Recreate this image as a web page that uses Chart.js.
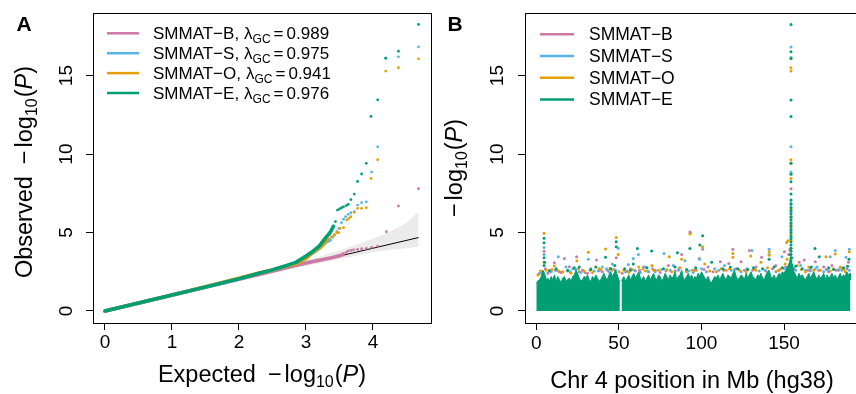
<!DOCTYPE html>
<html>
<head>
<meta charset="utf-8">
<script src="https://cdn.jsdelivr.net/npm/chart.js@4.4.1/dist/chart.umd.min.js"></script>
<style>
  html, body { margin: 0; padding: 0; background: #fff; }
  #wrap { position: relative; width: 856px; height: 394px; overflow: hidden; }
  canvas { position: absolute; top: 0; }
  #qq { left: 0; }
  #manh { left: 440px; }
</style>
</head>
<body>
<div id="wrap">
  <canvas id="qq" width="440" height="394"></canvas>
  <canvas id="manh" width="440" height="394"></canvas>
</div>
<script>
// ---- data ----
const seriesNames = ['SMMAT\u2212B', 'SMMAT\u2212S', 'SMMAT\u2212O', 'SMMAT\u2212E'];
const seriesColors = ['#CC79A7', '#56B4E9', '#E69F00', '#009E73'];
const lambdaGC = ['0.989', '0.975', '0.941', '0.976'];

const qqTicksX = [0, 1, 2, 3, 4];
const yTicks = [0, 5, 10, 15];
const manhTicksX = [0, 50, 100, 150];

// QQ plot: [expected, observed]; dense part is drawn as a thick trace, tail as dots
const qqBodyB = [[0,0],[0.5,0.5],[1,1.01],[1.5,1.51],[2,2.03],[2.3,2.33],[2.6,2.65],[2.8,2.86],[3.0,3.06],[3.2,3.24],[3.4,3.41],[3.55,3.58]];
const qqTailB = [[3.56,3.67],[3.6,3.74],[3.63,3.82],[3.67,3.86],[3.71,3.89],[3.77,3.93],[3.83,3.97],[3.9,3.99],[3.98,4.06],[4.07,4.14],[4.2,5.05],[4.38,6.69],[4.68,7.79]];
const qqBodyS = [[0,0],[0.5,0.51],[1,1.02],[1.5,1.53],[2,2.06],[2.3,2.4],[2.5,2.61],[2.7,2.85],[2.85,3.05],[3.0,3.4],[3.1,3.7],[3.2,4.0],[3.3,4.4],[3.36,4.52]];
const qqTailS = [[3.4,4.7],[3.43,4.84],[3.46,5.05],[3.49,5.26],[3.53,5.63],[3.56,5.85],[3.59,6.01],[3.63,6.16],[3.67,6.26],[3.72,6.33],[3.77,6.75],[3.83,6.9],[3.9,6.96],[3.98,8.85],[4.07,10.46],[4.19,16.13],[4.38,16.2],[4.68,16.83]];
const qqBodyO = [[0,0],[0.5,0.51],[1,1.02],[1.5,1.54],[2,2.08],[2.3,2.42],[2.5,2.62],[2.7,2.85],[2.85,3.02],[3.0,3.35],[3.11,3.78],[3.21,4.05],[3.31,4.5]];
const qqTailO = [[3.34,4.6],[3.38,4.73],[3.42,4.86],[3.46,4.99],[3.49,5.0],[3.51,5.26],[3.56,5.31],[3.61,5.8],[3.64,5.9],[3.67,6.01],[3.72,6.29],[3.77,6.54],[3.83,6.54],[3.9,6.58],[3.97,8.45],[4.07,9.64],[4.19,15.29],[4.38,15.5],[4.68,16.07]];
const qqBodyE = [[0,0],[0.5,0.51],[1,1.02],[1.5,1.53],[2,2.06],[2.3,2.4],[2.5,2.62],[2.7,2.88],[2.85,3.1],[3.0,3.5],[3.1,3.8],[3.2,4.15],[3.28,4.6],[3.36,5.0],[3.41,5.4]];
const qqTailE = [[3.44,5.7],[3.47,6.43],[3.5,6.5],[3.53,6.58],[3.56,6.64],[3.6,6.72],[3.63,6.8],[3.67,7.1],[3.72,7.45],[3.77,8.26],[3.83,8.73],[3.9,9.41],[3.97,12.4],[4.07,13.46],[4.19,16.1],[4.38,16.56],[4.68,18.26]];

// 95% band and null line
const bandX     = [0, 1, 2, 2.5, 3, 3.5, 4, 4.25, 4.5, 4.68];
const bandUpper = [0, 1.02, 2.08, 2.63, 3.2, 3.85, 4.6, 5.05, 5.6, 6.33];
const bandLower = [0, 0.98, 1.93, 2.41, 2.86, 3.3, 3.75, 3.9, 4.0, 4.1];
const nullLine  = [[0, 0], [4.68, 4.68]];

// Manhattan: top of the dense green mass, one value per Mb, two chromosome arms
const armPStart = 0;   // Mb 0..50
const armPTop = [1.8,1.9,2.0,2.2,2.6,2.4,2.0,2.1,1.9,2.2,2.0,
                 2.3,1.9,2.2,2.0,1.8,2.1,2.2,1.9,2.0,2.1,
                 1.9,2.2,2.3,2.6,2.4,2.1,1.9,2.0,2.2,2.1,
                 2.3,2.0,1.9,2.2,2.0,2.3,2.1,1.9,2.0,2.2,
                 2.4,2.1,2.0,2.3,2.5,2.2,2.4,2.6,2.3,2.0];
const armQStart = 52;  // Mb 52..190
const armQTop = [2.0,2.2,1.9,2.1,2.3,2.0,2.2,2.4,2.1,2.3,
                 2.5,2.1,2.0,2.2,1.9,2.1,2.3,2.0,2.2,2.4,
                 2.1,2.0,2.3,2.2,1.9,2.1,2.4,2.2,2.0,2.3,
                 2.1,2.2,2.5,2.0,2.2,2.3,2.6,2.1,2.0,2.2,
                 2.4,2.1,2.3,2.0,2.2,2.1,2.4,2.2,2.5,2.3,
                 2.1,2.0,2.2,1.9,1.8,2.0,2.2,2.1,2.3,2.0,
                 2.2,2.4,2.1,2.0,2.3,2.2,2.1,2.4,2.6,2.2,
                 2.0,2.1,2.3,2.2,2.0,2.4,2.1,2.3,2.5,2.2,
                 2.1,2.0,2.3,2.2,2.4,2.1,2.0,2.3,2.5,2.6,
                 2.2,2.1,2.3,2.0,2.2,2.4,2.3,2.5,2.4,2.6,
                 2.8,3.0,3.4,2.9,2.5,2.3,2.1,2.4,2.2,2.3,
                 2.1,2.0,2.2,2.4,2.1,2.3,2.5,2.2,2.0,2.3,
                 2.1,2.2,2.4,2.0,2.3,2.1,2.2,2.4,2.1,2.3,
                 2.0,2.2,2.4,2.1,2.3,2.2,2.5,2.3,2.4];
const armEdges = { pEnd: [50.6, 1.8], qStart: [51.6, 1.9], qEnd: [190.2, 2.0] };

// Manhattan: individual dots above the mass [Mb, -log10 P]
const manhB = [[4.7,3.8],[10.9,3.08],[17,3.35],[20,2.82],[24.4,3.46],[36.5,3.25],[33,2.7],[28,2.6],[8,2.6],[14,2.5],[45,2.7],[48.4,3.4],[57,2.7],[65,2.8],[72,2.6],[80,2.9],[88,3.6],[93,5.03],[93.3,4.98],[98.7,3.35],[100.7,3.93],[104,2.8],[111.4,3.14],[116.5,3.03],[119,3.93],[124,3.14],[129,3.85],[133,2.8],[136.4,3.42],[145,2.9],[150.2,3.78],[152.8,3.6],[153.5,3.9],[154.2,7.79],[154.2,5.5],[159.2,3.1],[162.2,3.25],[166,2.7],[168.9,3.14],[174,2.8],[179,2.9],[185,2.7],[189,3.1],
  [3,2.5],[7,2.4],[15,2.45],[26,2.5],[31,2.4],[40,2.5],[43,2.6],[52,2.4],[60,2.55],[68,2.5],[75,2.45],[84,2.55],[96,2.6],[107,2.5],[126,2.6],[139,2.55],[147,2.6],[156,2.7],[171,2.6],[177,2.5],[183,2.6],
  [1.5,2.35],[5.5,2.7],[11.5,2.6],[19,2.55],[22.5,2.7],[29.5,2.45],[38.5,2.6],[47,2.65],[55,2.55],[62.5,2.6],[70.5,2.7],[78.5,2.55],[86.5,2.7],[91,2.5],[101.5,2.65],[113.5,2.6],[121,2.7],[131,2.6],[143,2.7],[151,2.8],[164.5,2.6],[175.5,2.65],[181.5,2.6],[188,2.7]];
const manhS = [[4.7,4.05],[4.7,3.6],[13.3,3.46],[18,2.8],[22,2.7],[31.5,3.3],[40,2.8],[46,3.0],[49.6,4.0],[55.7,2.97],[58.7,3.35],[61.8,3.6],[66,2.8],[77.3,3.67],[83,2.9],[90,3.2],[98.9,3.3],[108,2.7],[114,2.9],[130.6,3.85],[141,3.93],[141,3.6],[148.7,3.46],[154.2,16.83],[154.2,16.16],[154.2,10.46],[154.2,8.85],[154.2,8.75],[154.2,6.9],[154.2,6.3],[154.2,5.9],[154.2,5.1],[154.2,4.7],[160,2.9],[170,2.8],[178,3.46],[181,3.85],[187.5,3.42],[189.5,3.93],
  [2,2.4],[9,2.5],[27,2.45],[35,2.55],[44,2.5],[54,2.5],[63,2.45],[72,2.5],[86,2.6],[95,2.45],[103,2.5],[118,2.6],[124,2.5],[135,2.55],[145,2.5],[157,2.6],[166,2.55],[174,2.5],[185,2.6],
  [3.5,2.45],[12.5,2.6],[20.5,2.5],[24,2.65],[37.5,2.55],[42.5,2.7],[48,2.6],[59.5,2.6],[67.5,2.55],[76,2.65],[81,2.6],[92.5,2.55],[100,2.7],[110.5,2.6],[120,2.65],[127.5,2.7],[138.5,2.6],[150,2.7],[163,2.6],[169,2.7],[176.5,2.6],[183,2.65],[189.5,2.6]];
const manhO = [[4.7,4.95],[4.7,3.1],[10.9,2.87],[24.6,3.2],[31.5,3.74],[38,2.7],[41.9,3.95],[48.4,4.69],[49.6,3.6],[53,2.6],[62,2.8],[70,2.9],[80.5,3.46],[88,3.3],[93,4.9],[100.7,4.1],[102,3.0],[112,2.7],[119,3.67],[119,3.42],[129.8,3.5],[136,3.1],[141,3.78],[141,3.56],[150.6,3.0],[151.5,4.37],[151.8,3.3],[152.4,4.48],[154.2,16.07],[154.2,15.5],[154.2,15.29],[154.2,9.64],[154.2,9.41],[154.2,8.45],[154.2,6.5],[154.2,6.0],[154.2,5.6],[154.2,5.3],[154.2,4.9],[154.2,4.5],[154.2,4.0],[158,2.9],[165,2.8],[175.4,3.46],[181,3.63],[184,2.8],[189.5,3.78],
  [1,2.3],[6,2.6],[16,2.5],[21,2.4],[29,2.55],[34,2.45],[46,2.6],[56,2.45],[66,2.55],[74,2.6],[82,2.5],[91,2.55],[97,2.6],[109,2.5],[115,2.6],[127,2.5],[133,2.6],[146,2.55],[163,2.5],[168,2.6],[178,2.55],[187,2.5],
  [2.5,2.55],[9.5,2.65],[13.5,2.55],[25.5,2.7],[32.5,2.6],[39,2.65],[44.5,2.7],[50,2.5],[58,2.65],[64.5,2.7],[71,2.6],[79,2.65],[87,2.75],[94.5,2.6],[105,2.55],[117,2.7],[123,2.6],[132,2.7],[140,2.75],[148,2.7],[160.5,2.65],[172,2.6],[180,2.7],[186,2.65]];
const manhE = [[4.7,4.63],[4.7,4.35],[4.7,3.4],[4.7,2.9],[12,2.7],[26,2.8],[41.9,3.42],[48.4,4.41],[48.4,4.1],[58.7,3.0],[61.2,3.99],[69.8,3.82],[85.4,3.71],[93,3.99],[99,4.2],[100.7,4.8],[106.2,3.1],[122,2.7],[141,3.3],[168.7,3.99],[171.3,3.46],[189.3,3.3],
  [154.2,18.26],[154.2,16.52],[154.2,16.09],[154.2,13.44],[154.2,12.4],[154.2,9.41],[154.2,8.71],[154.2,8.24],[154.2,7.45],[154.2,7.07],[154.2,6.8],[154.2,6.6],[154.2,6.4],[154.2,6.2],[154.2,6.0],[154.2,5.8],[154.2,5.6],[154.2,5.4],[154.2,5.2],[154.2,5.0],[154.2,4.8],[154.2,4.6],[154.2,4.4],[154.2,4.2],[154.2,4.0],[154.2,3.8],[154.2,3.6],[154.2,3.4],[154.2,3.2],[154.2,3.0],[154.2,2.8],
  [153.6,3.0],[153.8,3.6],[154.6,3.4],[154.8,2.9],[153.2,2.8],[155.2,2.7],
  [8,2.55],[19,2.6],[33,2.65],[45,2.7],[57,2.6],[77,2.7],[91,2.65],[113,2.7],[128,2.65],[137,2.7],[149,2.75],[161,2.7],[180,2.65],[186,2.75],
  [5,3.1],[23,2.75],[36,2.8],[47.5,2.9],[53.5,2.7],[67,2.75],[84,2.8],[96.5,2.75],[117.5,2.8],[131.5,2.75],[144,2.8],[157,2.85],[166.5,2.8],[177,2.75],[188.5,2.85]];

// ---- helpers ----
const FONT = '"Liberation Sans", Arial, Helvetica, sans-serif';
const xy = arr => arr.map(([x, y]) => ({ x, y }));
const zipXY = (xs, ys) => xs.map((x, i) => ({ x, y: ys[i] }));
const perMb = (start, tops) => tops.map((y, i) => ({ x: start + i, y }));

function partFont(p) {
  return (p.it ? 'italic ' : '') + (p.b ? 'bold ' : '') + p.s + 'px ' + FONT;
}
// draws a run of text pieces (for subscripts / italics), centred or left aligned
function drawRich(ctx, parts, x, y, rot, align) {
  ctx.save();
  ctx.translate(x, y);
  ctx.rotate(rot || 0);
  ctx.fillStyle = '#000';
  ctx.textAlign = 'left';
  ctx.textBaseline = 'alphabetic';
  let w = 0;
  parts.forEach(p => { ctx.font = partFont(p); w += (p.gap || 0) + ctx.measureText(p.t).width; });
  let cx = align === 'center' ? -w / 2 : 0;
  parts.forEach(p => {
    ctx.font = partFont(p);
    cx += p.gap || 0;
    ctx.fillText(p.t, cx, p.dy || 0);
    cx += ctx.measureText(p.t).width;
  });
  ctx.restore();
}

const T = 23.5, SUB = 16, TICK = 19, LEG = 17;
function logP(prefix) {
  const parts = [];
  if (prefix) parts.push({ t: prefix, s: T });
  parts.push({ t: '\u2212', s: T, gap: prefix ? 12 : 0 });
  parts.push({ t: 'log', s: T, gap: 3 });
  parts.push({ t: '10', s: SUB, dy: 5 });
  parts.push({ t: '(', s: T, gap: 1 });
  parts.push({ t: 'P', s: T, it: true });
  parts.push({ t: ')', s: T });
  return parts;
}

function axisDecor(cfg) {
  return {
    id: 'decor-' + cfg.name,
    afterDraw(chart) {
      const ctx = chart.ctx;
      const a = chart.chartArea;
      const sx = chart.scales.x, sy = chart.scales.y;
      ctx.save();
      ctx.strokeStyle = '#000';
      ctx.lineWidth = 1;
      ctx.strokeRect(Math.round(a.left) + 0.5, Math.round(a.top) + 0.5, Math.round(a.right - a.left), Math.round(a.bottom - a.top));
      // tick labels
      ctx.fillStyle = '#000';
      ctx.font = TICK + 'px ' + FONT;
      ctx.textAlign = 'center';
      ctx.textBaseline = 'alphabetic';
      cfg.xTicks.forEach(v => ctx.fillText(String(v), sx.getPixelForValue(v), cfg.xTickBase));
      yTicks.forEach(v => {
        ctx.save();
        ctx.translate(cfg.yTickBase, sy.getPixelForValue(v));
        ctx.rotate(-Math.PI / 2);
        ctx.fillText(String(v), 0, 0);
        ctx.restore();
      });
      // axis titles
      drawRich(ctx, cfg.xTitle, cfg.xTitlePos[0], cfg.xTitlePos[1], 0, 'center');
      drawRich(ctx, cfg.yTitle, cfg.yTitlePos[0], cfg.yTitlePos[1], -Math.PI / 2, 'center');
      // panel letter
      drawRich(ctx, [{ t: cfg.letter, s: 21, b: true }], cfg.letterPos[0], cfg.letterPos[1], 0, 'center');
      // legend
      seriesNames.forEach((n, i) => {
        const yy = cfg.leg.y0 + i * cfg.leg.dy;
        ctx.strokeStyle = seriesColors[i];
        ctx.lineWidth = 2.5;
        ctx.beginPath();
        ctx.moveTo(cfg.leg.x0, yy);
        ctx.lineTo(cfg.leg.x1, yy);
        ctx.stroke();
        drawRich(ctx, cfg.leg.text(i), cfg.leg.tx, yy + 6, 0, 'left');
      });
      ctx.restore();
    }
  };
}

function scalesFor(xMin, xMax, xTicks, yWidth) {
  const grid = { display: true, drawOnChartArea: false, drawTicks: true, tickLength: 7, color: '#000', tickColor: '#000', lineWidth: 1 };
  return {
    x: {
      type: 'linear', min: xMin, max: xMax,
      grid: grid, border: { display: false },
      ticks: { display: false },
      afterBuildTicks: s => { s.ticks = xTicks.map(v => ({ value: v })); },
      afterFit: s => { s.height = 71; }
    },
    y: {
      type: 'linear', min: -0.765, max: 18.99,
      grid: grid, border: { display: false },
      ticks: { display: false },
      afterBuildTicks: s => { s.ticks = yTicks.map(v => ({ value: v })); },
      afterFit: s => { s.width = yWidth; }
    }
  };
}

const dots = (data, color, r, order) => ({
  data: xy(data), showLine: false, pointRadius: r, pointBorderWidth: 0,
  pointBackgroundColor: color, pointBorderColor: color, order: order
});
const trace = (data, color, order) => ({
  data: xy(data), showLine: true, pointRadius: 0, borderColor: color, borderWidth: 3.6,
  borderCapStyle: 'round', borderJoinStyle: 'round', fill: false, tension: 0, order: order
});

const baseOpts = {
  responsive: false, animation: false, events: [],
  plugins: { legend: { display: false }, tooltip: { enabled: false } }
};

// ---- panel A: QQ plot ----
new Chart(document.getElementById('qq'), {
  type: 'line',
  data: {
    datasets: [
      { data: zipXY(bandX, bandLower), showLine: true, pointRadius: 0, borderWidth: 0, borderColor: 'rgba(0,0,0,0)', fill: false, order: 20 },
      { data: zipXY(bandX, bandUpper), showLine: true, pointRadius: 0, borderWidth: 0, borderColor: 'rgba(0,0,0,0)', backgroundColor: '#ebebeb', fill: 0, order: 19 },
      { data: xy(nullLine), showLine: true, pointRadius: 0, borderColor: '#000', borderWidth: 1, fill: false, order: 18 },
      trace(qqBodyB, seriesColors[0], 8), dots(qqTailB, seriesColors[0], 1.4, 7),
      trace(qqBodyS, seriesColors[1], 6), dots(qqTailS, seriesColors[1], 1.4, 5),
      trace(qqBodyO, seriesColors[2], 4), dots(qqTailO, seriesColors[2], 1.4, 3),
      trace(qqBodyE, seriesColors[3], 2), dots(qqTailE, seriesColors[3], 1.4, 1)
    ]
  },
  options: Object.assign({}, baseOpts, {
    layout: { padding: { left: 0, top: 13, right: 9, bottom: 0 } },
    scales: scalesFor(-0.179, 4.866, qqTicksX, 93)
  }),
  plugins: [axisDecor({
    name: 'qq', xTicks: qqTicksX, xTickBase: 348, yTickBase: 72,
    xTitle: logP('Expected'), xTitlePos: [262, 382],
    yTitle: logP('Observed'), yTitlePos: [32, 172],
    letter: 'A', letterPos: [24, 31],
    leg: {
      x0: 107, x1: 139, tx: 153, y0: 33.3, dy: 19.9,
      text: i => [
        { t: seriesNames[i] + ',', s: LEG },
        { t: '\u03bb', s: LEG, gap: 5 },
        { t: 'GC', s: 12, dy: 4 },
        { t: '=', s: LEG, gap: 3 },
        { t: lambdaGC[i], s: LEG, gap: 3 }
      ]
    }
  })]
});

// ---- panel B: Manhattan plot ----
const mass = pts => ({
  data: pts, showLine: true, pointRadius: 0, borderColor: seriesColors[3], borderWidth: 1,
  backgroundColor: seriesColors[3], fill: 'origin', tension: 0, order: 2
});
const armP = perMb(armPStart, armPTop).concat([{ x: armEdges.pEnd[0], y: armEdges.pEnd[1] }]);
const armQ = [{ x: armEdges.qStart[0], y: armEdges.qStart[1] }].concat(perMb(armQStart, armQTop), [{ x: armEdges.qEnd[0], y: armEdges.qEnd[1] }]);
new Chart(document.getElementById('manh'), {
  type: 'line',
  data: {
    datasets: [
      dots(manhB, seriesColors[0], 1.5, 6),
      dots(manhS, seriesColors[1], 1.5, 5),
      dots(manhO, seriesColors[2], 1.5, 4),
      mass(armP),
      mass(armQ),
      dots(manhE, seriesColors[3], 1.5, 1)
    ]
  },
  options: Object.assign({}, baseOpts, {
    layout: { padding: { left: 0, top: 13, right: 17, bottom: 0 } },
    scales: scalesFor(-6.84, 197.8, manhTicksX, 85)
  }),
  plugins: [axisDecor({
    name: 'manh', xTicks: manhTicksX, xTickBase: 349, yTickBase: 63,
    xTitle: [{ t: 'Chr 4 position in Mb (hg38)', s: T }], xTitlePos: [252, 388],
    yTitle: logP(null), yTitlePos: [22, 168],
    letter: 'B', letterPos: [15, 31],
    leg: {
      x0: 100, x1: 134, tx: 149, y0: 34.3, dy: 21.7,
      text: i => [{ t: seriesNames[i], s: 17.5 }]
    }
  })]
});
</script>
</body>
</html>
